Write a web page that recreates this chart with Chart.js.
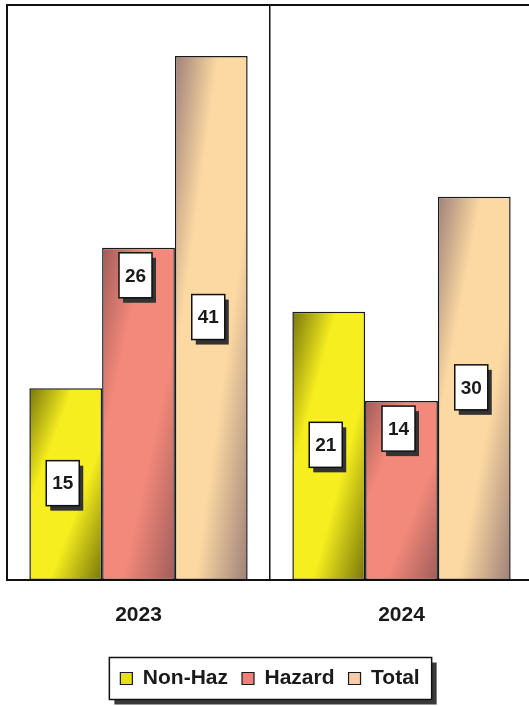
<!DOCTYPE html>
<html>
<head>
<meta charset="utf-8">
<script src="https://cdn.jsdelivr.net/npm/chart.js@4/dist/chart.umd.min.js"></script>
<style>
  html, body { margin: 0; padding: 0; background: #fff; overflow: hidden; }
  #wrap { width: 544px; height: 706px; }
</style>
</head>
<body>
<div id="wrap"><canvas id="waste-chart"></canvas></div>
<script>
// Datos del gráfico
const years = ['2023', '2024'];
const nonHaz = [15, 21];
const hazard = [26, 14];
const total = [41, 30];

// colores: [claro, oscuro, leyenda] por serie
const yellow = ['#f6ee1e', '#77760a', '#e6e010'];
const salmon = ['#f3897a', '#a05c5a', '#ef7f78'];
const tan = ['#fcd9a2', '#9e8079', '#f9ccaa'];

const CAT_PCT = 0.83;

// degradado diagonal dentro de cada barra
function barFill(ctx) {
  const cols = ctx.dataset.shade;
  if (ctx.type !== 'data' || !ctx.chart.chartArea) return cols[0];
  const xs = ctx.chart.scales.x, ys = ctx.chart.scales.y;
  const catW = xs.width / years.length;
  const barW = catW * CAT_PCT / 3;
  const left = xs.getPixelForValue(ctx.dataIndex) - catW * CAT_PCT / 2 + ctx.datasetIndex * barW;
  const top = ys.getPixelForValue(ctx.parsed.y);
  const h = ys.getPixelForValue(0) - top;
  const w = barW;
  const k = 2 * w * h / (h * h + w * w);
  const g = ctx.chart.ctx.createLinearGradient(left, top, left + h * k, top + w * k);
  g.addColorStop(0, cols[1]);
  g.addColorStop(0.3, cols[0]);
  g.addColorStop(0.64, cols[0]);
  g.addColorStop(1, cols[1]);
  return g;
}

// marco del área del gráfico
const framePlugin = {
  id: 'frame',
  afterDatasetsDraw(chart) {
    const { ctx, chartArea: a } = chart;
    ctx.save();
    ctx.strokeStyle = '#111';
    ctx.lineWidth = 2;
    ctx.strokeRect(a.left, a.top, a.right - a.left, a.bottom - a.top);
    ctx.restore();
  }
};

// cuadro de la leyenda con sombra
const legendBoxPlugin = {
  id: 'legendBox',
  beforeDraw(chart) {
    const boxes = chart.legend && chart.legend.legendHitBoxes;
    if (!boxes || !boxes.length) return;
    const first = boxes[0], last = boxes[boxes.length - 1];
    const x = first.left - 11, y = first.top + first.height / 2 - 21;
    const w = last.left + last.width + 12 - x, h = 42;
    const ctx = chart.ctx;
    ctx.save();
    ctx.fillStyle = '#3a3a3a';
    ctx.fillRect(x + 5, y + 5, w, h);
    ctx.fillStyle = '#fff';
    ctx.fillRect(x, y, w, h);
    ctx.strokeStyle = '#111';
    ctx.lineWidth = 1.5;
    ctx.strokeRect(x, y, w, h);
    ctx.restore();
  }
};

// etiquetas de valor en cajas blancas
const valueBoxPlugin = {
  id: 'valueBoxes',
  afterDatasetsDraw(chart) {
    const ctx = chart.ctx;
    ctx.save();
    ctx.font = 'bold 19px "Liberation Sans", Arial, sans-serif';
    ctx.textAlign = 'center';
    ctx.textBaseline = 'middle';
    chart.data.datasets.forEach((ds, di) => {
      chart.getDatasetMeta(di).data.forEach((bar, i) => {
        const bw = 33, bh = 45;
        const cx = bar.x - 3;
        const cy = ds.labelAt === 'top' ? bar.y + 5 + bh / 2 : (bar.y + bar.base) / 2 - 1;
        const x = cx - bw / 2, y = cy - bh / 2;
        ctx.fillStyle = '#333';
        ctx.fillRect(x + 4, y + 5, bw, bh);
        ctx.fillStyle = '#fff';
        ctx.fillRect(x, y, bw, bh);
        ctx.strokeStyle = '#111';
        ctx.lineWidth = 1.5;
        ctx.strokeRect(x, y, bw, bh);
        ctx.fillStyle = '#1a1a1a';
        ctx.fillText(String(ds.data[i]), cx, cy + 1);
      });
    });
    ctx.restore();
  }
};

const data = {
  labels: years,
  datasets: [
    { label: 'Non-Haz', data: nonHaz, shade: yellow, labelAt: 'middle' },
    { label: 'Hazard', data: hazard, shade: salmon, labelAt: 'top' },
    { label: 'Total', data: total, shade: tan, labelAt: 'middle' }
  ].map(d => Object.assign(d, {
    backgroundColor: barFill,
    borderColor: '#1a1a1a',
    borderWidth: 1.5,
    borderSkipped: false,
    categoryPercentage: CAT_PCT,
    barPercentage: 1
  }))
};

const options = {
  responsive: true,
  maintainAspectRatio: false,
  animation: false,
  layout: { padding: { left: 7, right: 11, top: 5, bottom: 7 } },
  plugins: {
    tooltip: { enabled: false },
    legend: {
      position: 'bottom',
      labels: {
        color: '#1a1a1a',
        font: { family: '"Liberation Sans", Arial, sans-serif', size: 21, weight: 'bold' },
        boxWidth: 12,
        boxHeight: 12,
        padding: 14,
        generateLabels(chart) {
          const items = Chart.defaults.plugins.legend.labels.generateLabels(chart);
          items.forEach(it => {
            it.fillStyle = chart.data.datasets[it.datasetIndex].shade[2];
            it.lineWidth = 1.2;
          });
          return items;
        }
      }
    }
  },
  scales: {
    x: {
      grid: { display: true, offset: true, color: '#111', lineWidth: 1.5, drawTicks: false },
      border: { display: false },
      ticks: {
        color: '#1a1a1a',
        padding: 23,
        font: { family: '"Liberation Sans", Arial, sans-serif', size: 21, weight: 'bold' }
      },
      afterFit(scale) { scale.height = 74; }
    },
    y: {
      display: false,
      min: 0,
      max: 45
    }
  }
};

new Chart(document.getElementById('waste-chart'), {
  type: 'bar',
  data: data,
  options: options,
  plugins: [framePlugin, legendBoxPlugin, valueBoxPlugin]
});
</script>
</body>
</html>
